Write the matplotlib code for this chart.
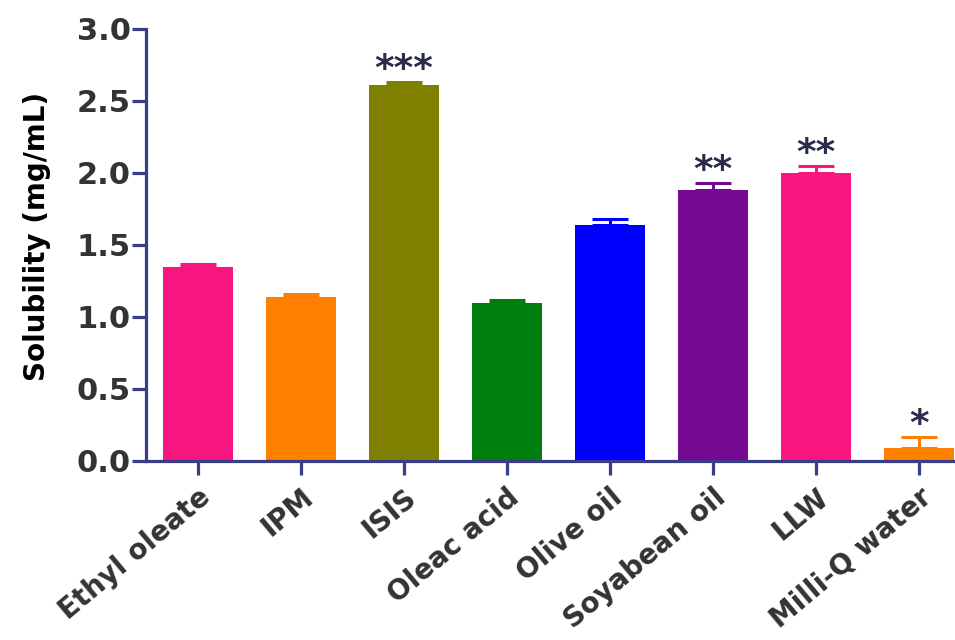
import numpy as np
import matplotlib.pyplot as plt

plt.rcParams['font.family'] = ['DejaVu Sans']
plt.rcParams['font.weight'] = 'bold'

# Solubility in each vehicle (mg/mL), mean and upper error
solventes = ['Ethyl oleate', 'IPM', 'ISIS', 'Oleac acid', 'Olive oil',
             'Soyabean oil', 'LLW', 'Milli-Q water']
solubilidade = [1.35, 1.14, 2.61, 1.10, 1.64, 1.88, 2.00, 0.09]
erro = [0.02, 0.02, 0.02, 0.02, 0.04, 0.05, 0.05, 0.08]
estrelas = ['', '', '***', '', '', '**', '**', '*']
cores = ['#F7157F', '#FF7F00', '#7F7F00', '#007F0F', '#0000FF',
         '#750A92', '#FA1681', '#FF8000']

eixo_cor = '#3A3D88'
texto_cor = '#333333'

fig = plt.figure(figsize=(9.55, 6.4), dpi=100)
ax = fig.add_axes([0.153, 0.2797, 0.847, 0.6751])

x = np.arange(len(solventes))
ax.bar(x, solubilidade, width=0.68, color=cores, zorder=2)

# Barras de erro apenas para cima, na cor de cada barra
for i in range(len(x)):
    topo = solubilidade[i] + erro[i]
    ax.errorbar(x[i], solubilidade[i], yerr=[[0], [erro[i]]], fmt='none',
                ecolor=cores[i], elinewidth=2.2, capsize=13, capthick=2.2,
                zorder=1)
    if estrelas[i]:
        ax.text(x[i], topo + 0.012, estrelas[i], ha='center', va='baseline',
                fontsize=27, fontweight='bold', color='#2A2D4A')

ax.set_ylim(0, 3.0)
ax.set_xlim(-0.5, 7.35)
ax.set_yticks(np.arange(0, 3.01, 0.5))
ax.set_yticklabels(['%.1f' % v for v in np.arange(0, 3.01, 0.5)])
ax.set_xticks(x)
ax.set_xticklabels(solventes, rotation=40, ha='right', rotation_mode='anchor')

ax.set_ylabel('Solubility (mg/mL)', fontsize=20, fontweight='bold',
              color='black')
ax.yaxis.set_label_coords(-0.117, 0.52)

for lado in ['top', 'right']:
    ax.spines[lado].set_visible(False)
for lado in ['left', 'bottom']:
    ax.spines[lado].set_color(eixo_cor)
    ax.spines[lado].set_linewidth(2.3)

ax.tick_params(axis='y', colors=eixo_cor, labelcolor=texto_cor, width=2.3,
               length=10, labelsize=22, pad=1)
ax.tick_params(axis='x', colors=eixo_cor, labelcolor=texto_cor, width=2.3,
               length=10, labelsize=20, pad=6)

fig.savefig('out.png', dpi=100)
